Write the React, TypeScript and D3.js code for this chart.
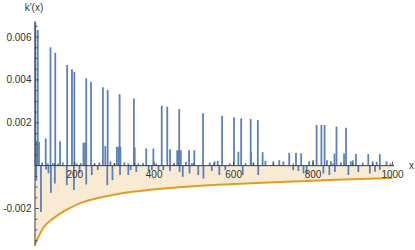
import React from 'react';
import * as d3 from 'd3';

// tall spikes (positive)
const peakX = [101, 107, 139, 151, 181, 193, 199, 229, 241, 271, 283, 313, 349, 419, 433, 463, 523, 571, 601, 619, 643, 661, 809, 821, 829, 859, 883];
const peakY = [0.00667, 0.00633, 0.00552, 0.00527, 0.0047, 0.0045, 0.00438, 0.00408, 0.00392, 0.00366, 0.00353, 0.00334, 0.00314, 0.0028, 0.00275, 0.00264, 0.00244, 0.00233, 0.00226, 0.00221, 0.00218, 0.00213, 0.0019, 0.0019, 0.0019, 0.00182, 0.00177];

// medium spikes (positive)
const midX = [104, 110, 127, 163, 222, 226, 277, 306, 310, 315, 351, 380, 398, 440, 458, 462, 467, 488, 501, 612, 644, 673, 740, 757, 770, 854, 878, 908, 939, 968];
const midY = [0.00115, 0.0011, 0.00127, 0.00114, 0.00107, 0.00107, 0.00091, 0.00088, 0.00088, 0.00088, 0.00085, 0.0008, 0.0008, 0.00076, 0.00072, 0.00072, 0.00072, 0.00072, 0.00072, 0.00065, 0.00064, 0.00063, 0.0006, 0.0006, 0.00057, 0.00057, 0.00057, 0.00054, 0.00054, 0.00054];

// small spikes near the axis
const lowX = [118, 132, 145, 158, 170, 205, 215, 250, 262, 290, 300, 325, 335, 360, 372, 405, 450, 480, 495, 540, 552, 560, 590, 630, 650, 680, 700, 715, 725, 790, 800, 835, 845, 870, 895, 900, 925, 950, 960, 985, 995];
const lowY = [0.00015, 0.0001, 0.00012, 0.0001, 0.00015, 0.0001, 0.00012, 0.0001, 0.00015, 0.0002, 0.00012, 0.00015, 0.0001, 0.0001, 0.00012, 0.0001, 0.0001, 0.00018, 0.00012, 0.00015, 0.0002, 0.00022, 0.0001, 0.00012, 0.00015, 0.00022, 0.0002, 0.00025, 0.0002, 0.0002, 0.00025, 0.00025, 0.0002, 0.00015, 0.0002, 0.00025, 0.00015, 0.0002, 0.00018, 0.0002, 0.0001];

// negative spikes
const negX = [103, 115, 128, 134, 140, 150, 180, 198, 212, 229, 243, 258, 282, 295, 314, 335, 341, 355, 386, 394, 411, 423, 440, 464, 472, 489, 511, 524, 545, 564, 579, 623, 662, 750, 763, 776, 784, 826, 841, 855, 889, 914, 943, 956, 968];
const negY = [-0.0007, -0.00216, -0.00019, -0.00036, -0.00127, -0.00083, -0.00091, -0.00114, -0.00035, -0.00088, -0.00044, -0.0002, -0.00091, -0.00068, -0.00044, -0.00044, -0.00021, -0.00029, -0.00025, -0.00021, -0.00021, -0.00021, -0.00025, -0.00029, -0.00052, -0.00037, -0.00044, -0.0006, -0.00025, -0.00044, -0.00021, -0.00044, -0.00044, -0.00021, -0.00025, -0.00037, -0.00037, -0.00037, -0.00044, -0.0003, -0.00044, -0.0003, -0.00037, -0.00029, -0.0002];

// lower bound curve (orange)
const boundX = [100, 121, 147, 180, 222, 264, 306, 365, 516, 600, 700, 800, 900, 1000];
const boundY = [-0.00367, -0.0029, -0.00245, -0.00205, -0.00169, -0.00149, -0.00133, -0.00118, -0.00094, -0.00086, -0.00077, -0.0007, -0.00063, -0.00058];

const xTicks = [200, 400, 600, 800, 1000];
const yTicks = [-0.002, 0.002, 0.004, 0.006];

const BLUE = '#5e81b5';
const ORANGE = '#e19c24';
const AXIS = '#3c3c3c';
const FONT = '"Liberation Sans", Arial, sans-serif';

export default function App() {
  const x = d3.scaleLinear().domain([100, 1000]).range([35, 392.5]);
  const y = d3.scaleLinear().domain([-0.002, 0.006]).range([208.5, 37.1]);

  const spikes = [
    ...lowX.map((v, i) => [v, lowY[i]]),
    ...midX.map((v, i) => [v, midY[i]]),
    ...peakX.map((v, i) => [v, peakY[i]]),
    ...negX.map((v, i) => [v, negY[i]]),
  ];

  const bound = boundX.map((v, i) => [v, boundY[i]] as [number, number]);
  const area = d3.area<[number, number]>()
    .x(d => x(d[0]))
    .y0(y(0))
    .y1(d => y(d[1]))
    .curve(d3.curveMonotoneX);
  const line = d3.line<[number, number]>()
    .x(d => x(d[0]))
    .y(d => y(d[1]))
    .curve(d3.curveMonotoneX);

  const xMinor = d3.range(150, 1001, 50).filter(v => v % 200 !== 0);
  const yMinor = d3.range(-35, 66, 5).map(v => v / 10000).filter(v => Math.abs(v * 1000 % 2) > 0.01 && Math.abs(v) > 1e-9);

  return (
    <svg width={415} height={250} style={{ position: 'absolute', left: 0, top: 0, background: '#fff' }}>
      <path d={area(bound) || ''} fill="#f9ebd3" />
      <g stroke={BLUE} strokeWidth={1.8}>
        {spikes.map(([v, h], i) => (
          <line key={i} x1={x(v)} x2={x(v)} y1={y(0)} y2={y(h)} />
        ))}
      </g>
      <path d={line(bound) || ''} fill="none" stroke={ORANGE} strokeWidth={2} />

      {/* axes */}
      <line x1={35} x2={394} y1={y(0)} y2={y(0)} stroke={AXIS} strokeWidth={1} />
      <line x1={35} x2={35} y1={21} y2={246} stroke={AXIS} strokeWidth={1} />
      <g stroke={AXIS} strokeWidth={0.8}>
        {xTicks.map(t => <line key={t} x1={x(t)} x2={x(t)} y1={y(0)} y2={y(0) - 4} />)}
        {xMinor.map(t => <line key={'m' + t} x1={x(t)} x2={x(t)} y1={y(0)} y2={y(0) - 2.5} />)}
        {yTicks.map(t => <line key={t} x1={35} x2={39} y1={y(t)} y2={y(t)} />)}
        {yMinor.map(t => <line key={'m' + t} x1={35} x2={37.5} y1={y(t)} y2={y(t)} />)}
      </g>
      <g fontFamily={FONT} fontSize={10} fill="#333">
        {xTicks.map(t => (
          <text key={t} x={x(t)} y={y(0) + 12} textAnchor="middle">{t}</text>
        ))}
        {yTicks.map(t => (
          <text key={t} x={31.5} y={y(t) + 3.5} textAnchor="end">{d3.format('.3f')(t).replace('−', '-')}</text>
        ))}
        <text x={34} y={11} textAnchor="middle">k′(x)</text>
        <text x={409} y={y(0) + 3.5}>x</text>
      </g>
    </svg>
  );
}
